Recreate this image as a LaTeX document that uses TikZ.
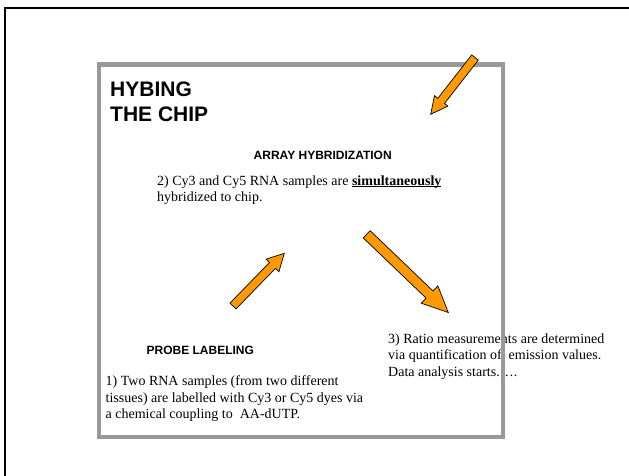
\documentclass[tikz,border=0pt]{standalone}
\usepackage{fontspec}
\setmainfont{Liberation Serif}
\setsansfont{Liberation Sans}
\usetikzlibrary{calc}
\definecolor{arroworange}{RGB}{255,153,0}
\definecolor{framegray}{RGB}{153,153,153}
\newcommand\myul[1]{\setbox0\hbox{#1}\rlap{\rule[-2.2pt]{\wd0}{0.9pt}}\box0}
% block arrow: tail, tip, half shaft width, half head width, head length
\newcommand\blockarrow[5]{%
  \draw[blockarrow]
    ($(#1)!#3!90:(#2)$)
    -- ($(#2)!#5!(#1)!#3!-90:(#1)$)
    -- ($(#2)!#5!(#1)!#4!-90:(#1)$)
    -- (#2)
    -- ($(#2)!#5!(#1)!#4!90:(#1)$)
    -- ($(#2)!#5!(#1)!#3!90:(#1)$)
    -- ($(#1)!#3!-90:(#2)$)
    -- cycle;}
\begin{document}
\begin{tikzpicture}[x=1pt,y=-1pt,
  title/.style={font=\fontsize{21}{25}\selectfont\sffamily\bfseries, inner sep=0pt, anchor=base west},
  head/.style={font=\fontsize{12}{14}\selectfont\sffamily\bfseries, inner sep=0pt, anchor=base west},
  body/.style={font=\fontsize{14}{16.5}\selectfont\rmfamily, inner sep=0pt, anchor=base west},
  blockarrow/.style={fill=arroworange, draw=black, line width=0.7pt, line join=miter}]
\useasboundingbox (0,0) rectangle (629,475);
\fill[white] (0,0) rectangle (629,475);
% outer black frame (only top and left edges visible)
\draw[line width=2pt, black] (5,480) -- (5,8) -- (640,8);
% texts
\node[title] (t1) at (110,96) {HYBING};
\node[title] (t2) at (110,121) {THE CHIP};
\node[head] (ah) at (253.5,159.5) {ARRAY HYBRIDIZATION};
\node[body] (a1) at (157,185) {2) Cy3 and Cy5 RNA samples are \myul{\textbf{simultaneously}}};
\node[body] (a2) at (157,201.3) {hybridized to chip.};
\node[head] (ph) at (146.4,354.7) {PROBE LABELING};
\node[body] (p1) at (105.5,385.8) {1) Two RNA samples (from two different};
\node[body] (p2) at (105.5,402.3) {tissues) are labelled with Cy3 or Cy5 dyes via};
\node[body] (p3) at (105.5,418.8) {a chemical coupling to\ \ AA-dUTP.};
\node[body] (r1) at (388,343.4) {3) Ratio measurements are determined};
\node[body] (r2) at (388,359.9) {via quantification of\ \ emission values.};
\node[body] (r3) at (388,376.2) {Data analysis starts.….};
% gray frame
\draw[framegray, line width=4.6pt] (99,64.6) rectangle (503,437);
% arrows
\coordinate (A1s) at (475,57.5);
\coordinate (A1e) at (430.7,114.3);
\coordinate (A2s) at (233,306);
\coordinate (A2e) at (284.3,253.3);
\coordinate (A3s) at (366.7,234.3);
\coordinate (A3e) at (448.3,312.5);
\blockarrow{A1s}{A1e}{4.2pt}{8.5pt}{17pt}
\blockarrow{A2s}{A2e}{4.2pt}{9pt}{17pt}
\blockarrow{A3s}{A3e}{5pt}{12pt}{26pt}
\end{tikzpicture}
\end{document}
